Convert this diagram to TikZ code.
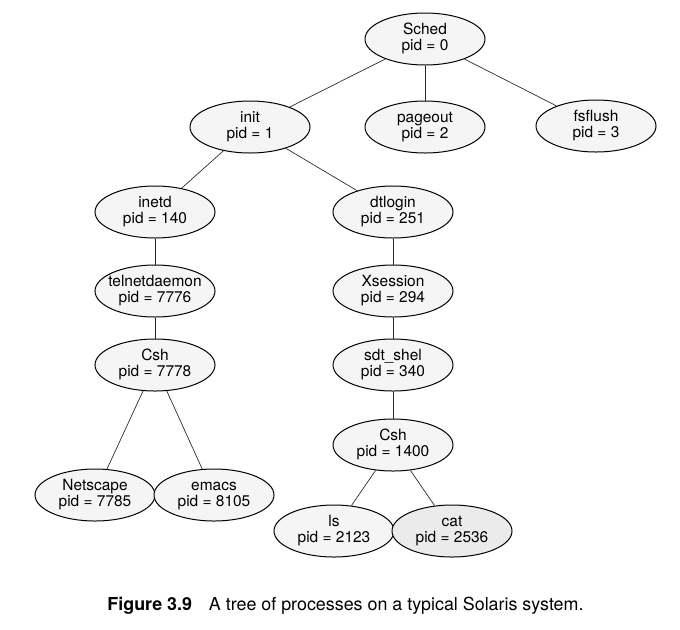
\documentclass[tikz,border=0pt]{standalone}
\usepackage{fontspec}
\setmainfont{TeX Gyre Heros}
\usetikzlibrary{shapes.geometric}
\newcommand\proctext[2]{\makebox[0pt]{\fontsize{11.6}{12.4}\selectfont\begin{tabular}{@{}c@{}}#1\\#2\end{tabular}}}
\tikzset{
  proc/.style={ellipse, draw=black, line width=0.75pt, fill=black!4,
    minimum width=90pt, minimum height=39pt, inner sep=0pt},
  conn/.style={draw=black!85, line width=0.5pt}
}
\begin{document}
\begin{tikzpicture}[x=0.75pt,y=-0.75pt]
\useasboundingbox[fill=white] (0,0) rectangle (680,629);
\node[proc] (sched) at (425,39) {\proctext{Sched}{pid = 0}};
\node[proc] (init) at (250,127) {\proctext{init}{pid = 1}};
\node[proc] (pageout) at (425,127) {\proctext{pageout}{pid = 2}};
\node[proc] (fsflush) at (596,126) {\proctext{fsflush}{pid = 3}};
\node[proc] (inetd) at (155,212) {\proctext{inetd}{pid = 140}};
\node[proc] (dtlogin) at (393,212) {\proctext{dtlogin}{pid = 251}};
\node[proc] (telnet) at (155,291) {\proctext{telnetdaemon}{pid = 7776}};
\node[proc] (xsession) at (393,291) {\proctext{Xsession}{pid = 294}};
\node[proc] (cshl) at (155,365) {\proctext{Csh}{pid = 7778}};
\node[proc] (sdt) at (393,365) {\proctext{sdt\_shel}{pid = 340}};
\node[proc] (cshr) at (393,445) {\proctext{Csh}{pid = 1400}};
\node[proc] (netscape) at (95,495) {\proctext{Netscape}{pid = 7785}};
\node[proc] (emacs) at (214,495) {\proctext{emacs}{pid = 8105}};
\node[proc] (ls) at (334,531) {\proctext{ls}{pid = 2123}};
\node[proc, fill=black!8] (cat) at (452,531) {\proctext{cat}{pid = 2536}};
\draw[conn] (sched) -- (init);
\draw[conn] (sched) -- (pageout);
\draw[conn] (sched) -- (fsflush);
\draw[conn] (init) -- (inetd);
\draw[conn] (init) -- (dtlogin);
\draw[conn] (inetd) -- (telnet);
\draw[conn] (telnet) -- (cshl);
\draw[conn] (cshl) -- (netscape);
\draw[conn] (cshl) -- (emacs);
\draw[conn] (dtlogin) -- (xsession);
\draw[conn] (xsession) -- (sdt);
\draw[conn] (sdt) -- (cshr);
\draw[conn] (cshr) -- (ls);
\draw[conn] (cshr) -- (cat);
\node[anchor=base, inner sep=0pt, font=\fontsize{13.4}{16}\selectfont] (caption) at (345.5,610)
  {\textbf{Figure 3.9}\hspace{0.95em}A tree of processes on a typical Solaris system.};
\end{tikzpicture}
\end{document}
